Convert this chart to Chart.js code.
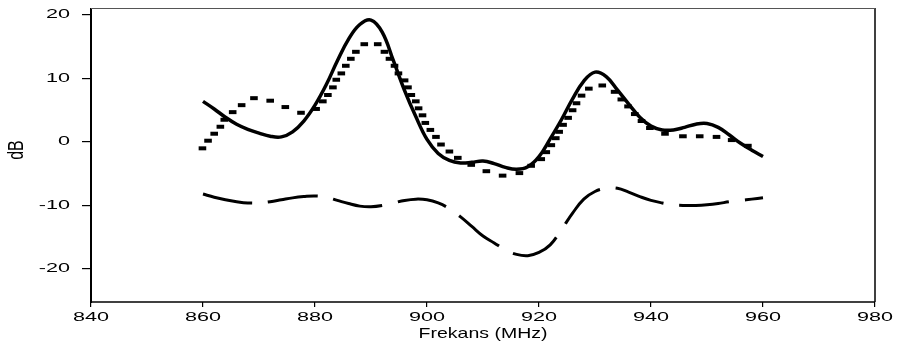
<!DOCTYPE html>
<html>
<head>
<meta charset="utf-8">
<script src="https://cdn.jsdelivr.net/npm/chart.js@4/dist/chart.umd.min.js"></script>
<style>
  html, body { margin: 0; padding: 0; background: #fff; }
  #wrap { width: 897px; height: 350px; }
</style>
</head>
<body>
<div id="wrap"><canvas id="c" width="897" height="350"></canvas></div>
<script>
// Frequency grid (MHz) shared by the solid and long-dash curves
const freqMHz = [860, 862, 864, 866, 868, 870, 872, 874, 876, 878,
                 880, 882, 884, 886, 888, 890, 892, 894, 896, 898,
                 900, 902, 904, 906, 908, 910, 912, 914, 916, 918,
                 920, 922, 924, 926, 928, 930, 932, 934, 936, 938,
                 940, 942, 944, 946, 948, 950, 952, 954, 956, 958, 960];

// Solid curve (dB)
const solidDb = [6.4, 5.2, 3.9, 2.8, 2.0, 1.4, 0.9, 0.8, 1.6, 3.3,
                 5.8, 9.0, 12.8, 16.2, 18.5, 19.2, 17.3, 12.8, 8.1, 4.0,
                 0.4, -1.8, -2.9, -3.3, -3.2, -3.0, -3.4, -4.0, -4.3, -3.9,
                 -2.3, 0.5, 3.5, 6.8, 9.6, 11.0, 10.3, 8.2, 6.0, 3.9,
                 2.5, 1.9, 1.9, 2.3, 2.8, 2.9, 2.3, 1.1, -0.2, -1.3, -2.3];

// Long-dash curve (dB)
const longDashDb = [-8.2, -8.7, -9.1, -9.4, -9.6, -9.6, -9.4, -9.1, -8.8, -8.6,
                    -8.5, -8.7, -9.2, -9.7, -10.1, -10.2, -10.0, -9.6, -9.2, -9.0,
                    -9.1, -9.6, -10.5, -11.8, -13.3, -14.8, -15.9, -17.0, -17.7, -17.9,
                    -17.4, -16.2, -13.8, -11.2, -9.0, -7.8, -7.3, -7.3, -7.9, -8.6,
                    -9.2, -9.6, -9.9, -10.0, -10.0, -9.9, -9.7, -9.4, -9.2, -9.0, -8.8];

// Short-bar series: frequency (MHz) and level (dB) of each bar
const markerFreq = [859.9, 860.9, 862.0, 863.1, 863.8, 865.3, 866.9, 869.1, 872.0, 874.7,
                    877.5, 880.2, 881.4, 882.3, 883.2, 883.8, 884.7, 885.5, 886.4, 887.3,
                    888.8, 891.2, 892.4, 893.3, 894.2, 894.9, 896.0, 896.6, 897.2, 898.0,
                    898.5, 899.2, 899.7, 900.6, 901.6, 902.5, 904.0, 905.5, 907.9, 910.6,
                    913.5, 916.5, 918.6, 920.4, 921.3, 922.2, 923.0, 923.6, 924.3, 925.2,
                    926.0, 926.7, 927.6, 928.9, 931.3, 933.5, 934.7, 935.9, 937.1, 938.3,
                    939.8, 942.5, 945.7, 948.7, 951.7, 954.4, 957.3];
const markerDb = [-1.0, 0.2, 1.3, 2.4, 3.5, 4.7, 5.8, 6.9, 6.5, 5.5,
                  4.6, 5.2, 6.4, 7.4, 8.6, 9.8, 10.8, 12.0, 13.1, 14.2,
                  15.4, 15.4, 14.2, 13.1, 12.0, 10.8, 9.7, 8.6, 7.4, 6.4,
                  5.3, 4.2, 3.0, 1.9, 0.8, -0.4, -1.5, -2.5, -3.6, -4.6,
                  -5.3, -4.9, -3.75, -2.7, -1.6, -0.5, 0.6, 1.6, 2.7, 3.8,
                  5.0, 6.1, 7.3, 8.4, 8.9, 7.9, 6.7, 5.6, 4.4, 3.3,
                  2.2, 1.3, 0.9, 0.9, 0.8, 0.3, -0.6];

// Axis ticks and titles
const xTicks = [840, 860, 880, 900, 920, 940, 960, 980];
const yTicks = [-20, -10, 0, 10, 20];
const xTitle = 'Frekans (MHz)';
const yTitle = 'dB';

const toPoints = (xs, ys) => xs.map((x, i) => ({ x: x, y: ys[i] }));

// Text is drawn with a horizontal stretch, as in the printed figure
function stretchedText(ctx, text, x, y, opts) {
  ctx.save();
  ctx.font = opts.font;
  ctx.fillStyle = '#000';
  ctx.textAlign = opts.align || 'center';
  ctx.textBaseline = 'middle';
  ctx.translate(x, y);
  ctx.scale(opts.sx || 1, 1);
  if (opts.rotate) ctx.rotate(opts.rotate);
  ctx.fillText(text, 0, 0);
  ctx.restore();
}

const framePlugin = {
  id: 'frame',
  beforeDatasetsDraw(chart) {
    const { ctx, chartArea: a } = chart;
    ctx.save();
    ctx.strokeStyle = '#000';
    ctx.lineWidth = 2;
    ctx.beginPath(); ctx.moveTo(a.left, a.top); ctx.lineTo(a.left, a.bottom + 1); ctx.stroke();
    ctx.lineWidth = 1.5;
    ctx.beginPath(); ctx.moveTo(a.left, a.bottom); ctx.lineTo(a.right, a.bottom); ctx.stroke();
    ctx.beginPath(); ctx.moveTo(a.right, a.top); ctx.lineTo(a.right, a.bottom); ctx.stroke();
    ctx.strokeStyle = '#555';
    ctx.lineWidth = 1;
    ctx.beginPath(); ctx.moveTo(a.left, a.top + 0.5); ctx.lineTo(a.right, a.top + 0.5); ctx.stroke();
    ctx.restore();
  }
};

const labelPlugin = {
  id: 'labels',
  afterDraw(chart) {
    const { ctx, chartArea: a } = chart;
    const xs = chart.scales.x, ys = chart.scales.y;
    const tickFont = '12px "Liberation Sans", Arial, sans-serif';
    ys.ticks.forEach(t => {
      stretchedText(ctx, String(t.value), 70, ys.getPixelForValue(t.value),
        { font: tickFont, align: 'right', sx: 1.8 });
    });
    xs.ticks.forEach(t => {
      stretchedText(ctx, String(t.value), xs.getPixelForValue(t.value), 318,
        { font: tickFont, align: 'center', sx: 1.8 });
    });
    stretchedText(ctx, xTitle, (a.left + a.right) / 2, 334,
      { font: '15px "Liberation Sans", Arial, sans-serif', sx: 1.3 });
    stretchedText(ctx, yTitle, 17, 150,
      { font: '16px "Liberation Sans", Arial, sans-serif', sx: 1.35, rotate: -Math.PI / 2 });
  }
};

new Chart(document.getElementById('c'), {
  type: 'line',
  data: {
    datasets: [
      {
        data: toPoints(freqMHz, solidDb),
        borderColor: '#000', borderWidth: 3.5,
        pointRadius: 0, fill: false,
        tension: 0.4
      },
      {
        data: toPoints(markerFreq, markerDb),
        showLine: false,
        pointStyle: 'line', pointRadius: 3.8,
        pointBorderWidth: 4, pointBorderColor: '#000', pointBackgroundColor: '#000'
      },
      {
        data: toPoints(freqMHz, longDashDb),
        borderColor: '#000', borderWidth: 3,
        borderDash: [50, 16], borderCapStyle: 'butt',
        pointRadius: 0, fill: false,
        tension: 0.4
      }
    ]
  },
  options: {
    responsive: false,
    animation: false,
    devicePixelRatio: 1,
    layout: { padding: { left: 0, right: 22, top: 6, bottom: 0 } },
    plugins: { legend: { display: false }, tooltip: { enabled: false } },
    scales: {
      x: {
        type: 'linear', min: 840, max: 980,
        afterBuildTicks: s => { s.ticks = xTicks.map(v => ({ value: v })); },
        afterFit: s => { s.height = 48; },
        ticks: { display: false },
        grid: { drawOnChartArea: false, drawTicks: true, tickLength: 5, color: '#000', lineWidth: 1.2 },
        border: { display: false }
      },
      y: {
        type: 'linear', min: -25.2, max: 21.1,
        afterBuildTicks: s => { s.ticks = yTicks.map(v => ({ value: v })); },
        afterFit: s => { s.width = 91; },
        ticks: { display: false },
        grid: { drawOnChartArea: false, drawTicks: true, tickLength: 9, color: '#000', lineWidth: 1.2 },
        border: { display: false }
      }
    }
  },
  plugins: [framePlugin, labelPlugin]
});
</script>
</body>
</html>
